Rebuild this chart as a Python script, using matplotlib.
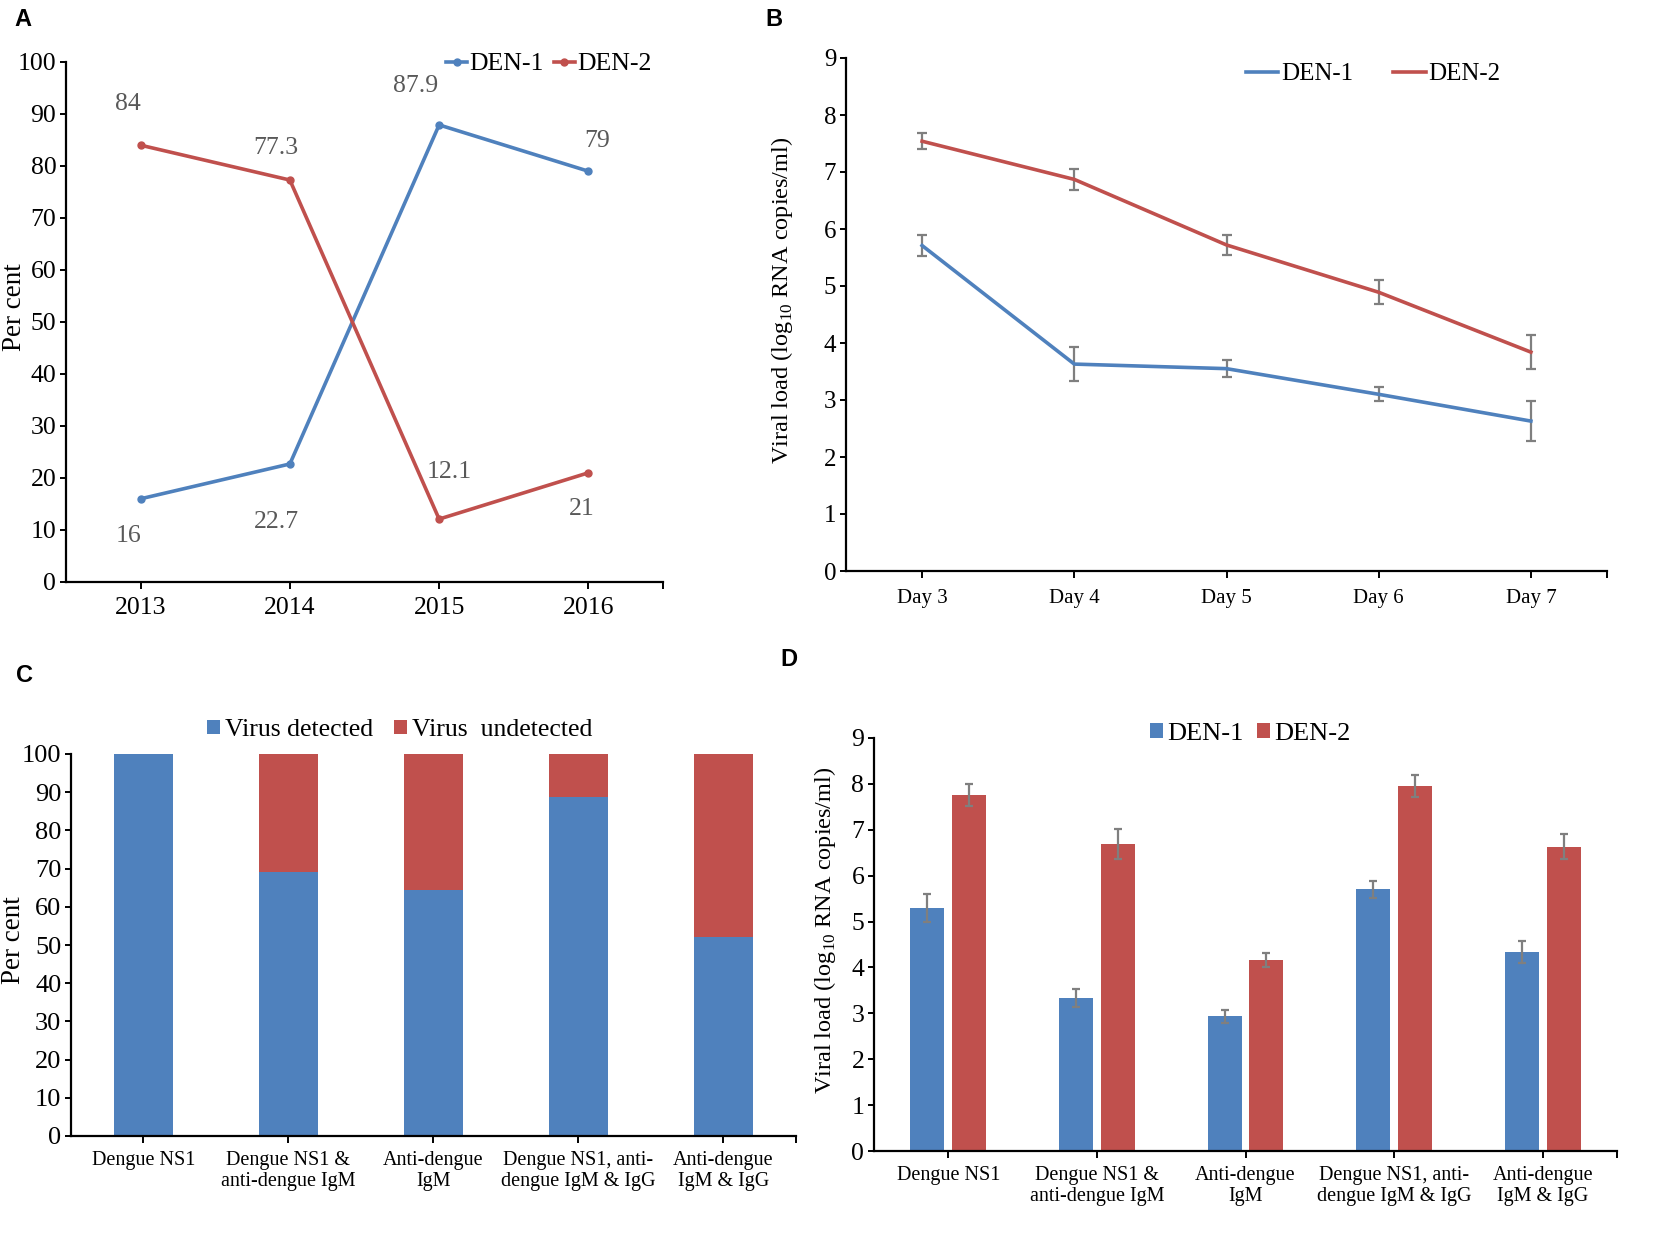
import numpy as np
import matplotlib
matplotlib.use('Agg')
import matplotlib.pyplot as plt
from matplotlib.ticker import FixedLocator

plt.rcParams['font.family'] = ['Liberation Serif', 'DejaVu Serif']
plt.rcParams['mathtext.fontset'] = 'custom'
plt.rcParams['mathtext.rm'] = 'Liberation Serif'

BLUE = '#4F81BD'
RED = '#C0504D'
GREY_ERR = '#7f7f7f'

# ---- panel A: serotype share per year
years = ['2013', '2014', '2015', '2016']
a_den1 = [16, 22.7, 87.9, 79]
a_den2 = [84, 77.3, 12.1, 21]
a_den1_txt = ['16', '22.7', '87.9', '79']
a_den2_txt = ['84', '77.3', '12.1', '21']

# ---- panel B: viral load by day of illness
days = ['Day 3', 'Day 4', 'Day 5', 'Day 6', 'Day 7']
b_den1 = [5.71, 3.63, 3.55, 3.10, 2.63]
b_den1_err = [0.19, 0.30, 0.15, 0.12, 0.35]
b_den2 = [7.54, 6.87, 5.72, 4.89, 3.84]
b_den2_err = [0.14, 0.19, 0.18, 0.21, 0.30]

# ---- panel C: virus detection by serology profile
groups = ['Dengue NS1', 'Dengue NS1 &\nanti-dengue IgM', 'Anti-dengue\nIgM',
          'Dengue NS1, anti-\ndengue IgM & IgG', 'Anti-dengue\nIgM & IgG']
c_detected = [100, 69.0, 64.3, 88.7, 52.2]
c_undetected = [0, 31.0, 35.7, 11.3, 47.8]

# ---- panel D: viral load by serology profile
d_den1 = [5.30, 3.33, 2.94, 5.70, 4.33]
d_den1_err = [0.30, 0.20, 0.14, 0.18, 0.24]
d_den2 = [7.76, 6.69, 4.16, 7.95, 6.63]
d_den2_err = [0.24, 0.32, 0.15, 0.24, 0.27]

VL_LABEL = 'Viral load (log$_{\\mathregular{10}}$ RNA copies/ml)'

W, H = 1658, 1233
fig = plt.figure(figsize=(W / 100, H / 100), dpi=100)


def px_axes(l, t, r, b):
    return fig.add_axes([l / W, 1 - b / H, (r - l) / W, (b - t) / H])


def style(ax, n, xfs, yfs):
    for s in ['top', 'right']:
        ax.spines[s].set_visible(False)
    for s in ['left', 'bottom']:
        ax.spines[s].set_linewidth(1.6)
    ax.set_xlim(-0.5, n - 0.5)
    ax.xaxis.set_minor_locator(FixedLocator([n - 0.5]))
    ax.tick_params(axis='x', which='both', direction='out', length=5,
                   width=1.4, labelsize=xfs, pad=6)
    ax.tick_params(axis='y', direction='out', length=4, width=1.4,
                   labelsize=yfs, pad=3)


def place_ylabel(ax, x_px, y_frac):
    # put the y label centre at a given figure pixel column
    l = ax.get_position().x0 * W
    w = ax.get_position().width * W
    ax.yaxis.set_label_coords((x_px - l) / w, y_frac)
    ax.yaxis.label.set_verticalalignment('center')


def panel_letter(x, y, s):
    fig.text(x / W, 1 - y / H, s, fontsize=17, fontweight='bold',
             family='Liberation Sans', ha='left', va='center')


# ---------------------------------------------------------------- A
ax = px_axes(66, 62, 663, 582)
xa = np.arange(len(years))
ax.plot(xa, a_den1, '-o', color=BLUE, lw=2.6, ms=5, label='DEN-1')
ax.plot(xa, a_den2, '-o', color=RED, lw=2.6, ms=5, label='DEN-2')
off1 = [(-9, -27), (-10, -42), (-17, 28), (6, 22)]
off2 = [(-9, 30), (-10, 23), (7, 34), (-5, -26)]
for i in range(len(years)):
    ax.annotate(a_den1_txt[i], (xa[i], a_den1[i]), xytext=off1[i],
                textcoords='offset points', ha='center', va='center',
                fontsize=18.5, color='#595959')
    ax.annotate(a_den2_txt[i], (xa[i], a_den2[i]), xytext=off2[i],
                textcoords='offset points', ha='center', va='center',
                fontsize=18.5, color='#595959')
ax.set_ylim(0, 100)
ax.set_yticks(range(0, 101, 10))
ax.set_xticks(xa)
ax.set_xticklabels(years)
style(ax, len(years), 18.5, 18.5)
ax.set_ylabel('Per cent', fontsize=19.5)
place_ylabel(ax, 15, 0.529)
ax.legend(loc='center', bbox_to_anchor=(549 / W, 1 - 64 / H),
          bbox_transform=fig.transFigure, ncol=2, frameon=False,
          fontsize=18.5, handlelength=0.8, handletextpad=0.1,
          columnspacing=0.4, borderpad=0)
panel_letter(14, 20, 'A')

# ---------------------------------------------------------------- B
ax = px_axes(846, 58, 1607, 571)
xb = np.arange(len(days))
ax.errorbar(xb, b_den1, yerr=b_den1_err, color=BLUE, lw=2.6,
            ecolor=GREY_ERR, elinewidth=1.6, capsize=3.5, capthick=1.6,
            label='DEN-1')
ax.errorbar(xb, b_den2, yerr=b_den2_err, color=RED, lw=2.6,
            ecolor=GREY_ERR, elinewidth=1.6, capsize=3.5, capthick=1.6,
            label='DEN-2')
ax.set_ylim(0, 9)
ax.set_yticks(range(0, 10))
ax.set_xticks(xb)
ax.set_xticklabels(days)
style(ax, len(days), 15, 18)
ax.tick_params(axis='x', pad=8)
ax.set_ylabel(VL_LABEL, fontsize=17.5)
place_ylabel(ax, 782, 0.528)
h, l = ax.get_legend_handles_labels()
h = [x[0] for x in h]
ax.legend(h, l, loc='center', bbox_to_anchor=(1373 / W, 1 - 74 / H),
          bbox_transform=fig.transFigure, ncol=2, frameon=False,
          fontsize=18, handlelength=1.3, handletextpad=0.1,
          columnspacing=1.6, borderpad=0)
panel_letter(765, 20, 'B')

# ---------------------------------------------------------------- C
ax = px_axes(71, 754, 796, 1136)
xc = np.arange(len(groups))
ax.bar(xc, c_detected, width=0.407, color=BLUE, label='Virus detected')
ax.bar(xc, c_undetected, width=0.407, bottom=c_detected, color=RED,
       label='Virus  undetected')
ax.set_ylim(0, 100)
ax.set_yticks(range(0, 101, 10))
ax.set_xticks(xc)
ax.set_xticklabels(groups, linespacing=1.1)
style(ax, len(groups), 14.5, 19)
ax.set_ylabel('Per cent', fontsize=19.5)
place_ylabel(ax, 14, 0.513)
ax.legend(loc='center', bbox_to_anchor=(400 / W, 1 - 730 / H),
          bbox_transform=fig.transFigure, ncol=2, frameon=False,
          fontsize=18.5, handlelength=0.5, handleheight=0.5,
          handletextpad=0.2, columnspacing=0.8, borderpad=0)
panel_letter(16, 675, 'C')

# ---------------------------------------------------------------- D
ax = px_axes(874, 738, 1617, 1151)
xd = np.arange(len(groups))
bw = 0.229
ax.bar(xd - 0.141, d_den1, width=bw, color=BLUE, label='DEN-1',
       yerr=d_den1_err, ecolor=GREY_ERR,
       error_kw=dict(elinewidth=1.6, capsize=3, capthick=1.6))
ax.bar(xd + 0.141, d_den2, width=bw, color=RED, label='DEN-2',
       yerr=d_den2_err, ecolor=GREY_ERR,
       error_kw=dict(elinewidth=1.6, capsize=3, capthick=1.6))
ax.set_ylim(0, 9)
ax.set_yticks(range(0, 10))
ax.set_xticks(xd)
ax.set_xticklabels(groups, linespacing=1.1)
style(ax, len(groups), 14.5, 18.5)
ax.set_ylabel(VL_LABEL, fontsize=17.5)
place_ylabel(ax, 825, 0.535)
ax.legend(loc='center', bbox_to_anchor=(1250 / W, 1 - 734 / H),
          bbox_transform=fig.transFigure, ncol=2, frameon=False,
          fontsize=19, handlelength=0.5, handleheight=0.5,
          handletextpad=0.15, columnspacing=0.5, borderpad=0)
panel_letter(780, 660, 'D')

fig.savefig('out.png', dpi=100)
